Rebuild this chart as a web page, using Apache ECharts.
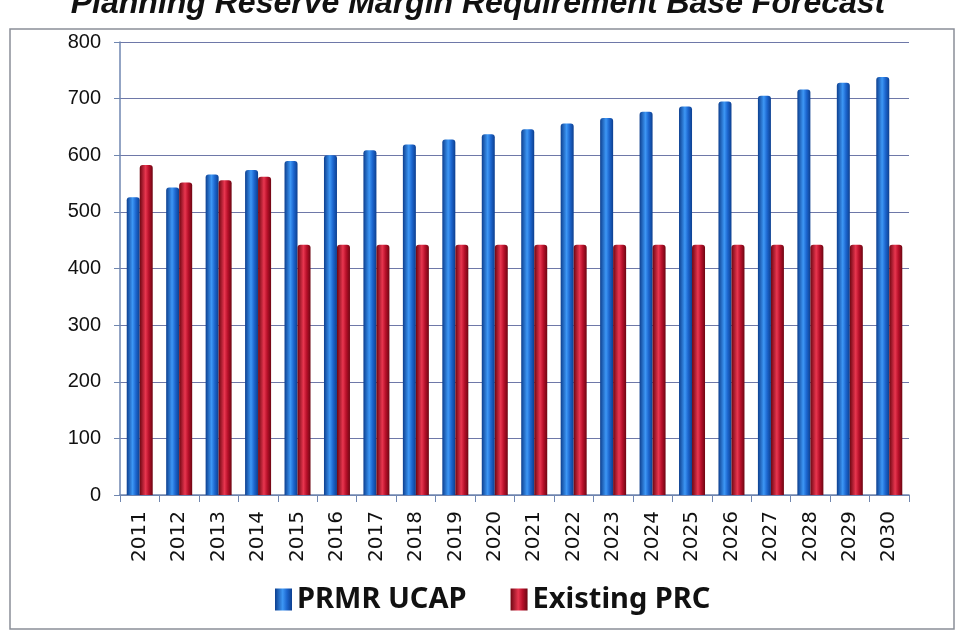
<!DOCTYPE html>
<html>
<head>
<meta charset="utf-8">
<script src="https://cdn.jsdelivr.net/npm/echarts@6/dist/echarts.min.js"></script>
<style>
  html, body { margin: 0; padding: 0; background: #fff; }
  #chart { width: 956px; height: 635px; }
</style>
</head>
<body>
<div id="chart"></div>
<script>
// years on the x axis
var years = ['2011', '2012', '2013', '2014', '2015', '2016', '2017', '2018', '2019', '2020',
  '2021', '2022', '2023', '2024', '2025', '2026', '2027', '2028', '2029', '2030'];
// PRMR UCAP (blue)
var prmrUcap = [526, 543, 566, 574, 590, 600, 609, 619, 628, 637,
  646, 656, 666, 677, 686, 695, 705, 716, 728, 738];
// Existing PRC (red)
var existingPrc = [583, 552, 556, 562, 442, 442, 442, 442, 442, 442,
  442, 442, 442, 442, 442, 442, 442, 442, 442, 442];
var yTicks = [0, 100, 200, 300, 400, 500, 600, 700, 800];

var chart = echarts.init(document.getElementById('chart'));

function cyl(dark, mid, light) {
  return new echarts.graphic.LinearGradient(0, 0, 1, 0, [
    { offset: 0, color: dark },
    { offset: 0.45, color: light },
    { offset: 0.7, color: mid },
    { offset: 1, color: dark }
  ]);
}

chart.setOption({
  animation: false,
  title: {
    text: 'Planning Reserve Margin Requirement Base Forecast',
    left: 'center',
    top: -17,
    textStyle: {
      fontFamily: 'Liberation Sans',
      fontSize: 32,
      fontWeight: 'bold',
      fontStyle: 'italic',
      color: '#111'
    }
  },
  graphic: [{
    type: 'rect',
    shape: { x: 10, y: 29, width: 944, height: 600 },
    style: { fill: 'none', stroke: '#8a8f98', lineWidth: 1.5 },
    z: -1
  }],
  legend: {
    bottom: 16,
    left: 270,
    itemWidth: 17,
    itemHeight: 22,
    itemGap: 44,
    icon: 'rect',
    textStyle: {
      fontFamily: 'Noto Sans',
      fontSize: 29,
      fontWeight: 'bold',
      color: '#111'
    },
    data: ['PRMR UCAP', 'Existing PRC']
  },
  grid: {
    left: 120,
    right: 47,
    top: 42,
    bottom: 140
  },
  xAxis: {
    type: 'category',
    data: years,
    axisLine: { lineStyle: { color: '#6f86b0', width: 1.5 } },
    axisTick: { show: true, length: 7, lineStyle: { color: '#6f86b0' } },
    axisLabel: {
      rotate: 90,
      interval: 0,
      margin: 16,
      fontFamily: 'DejaVu Sans',
      fontSize: 20,
      color: '#111'
    }
  },
  yAxis: {
    type: 'value',
    min: yTicks[0],
    max: yTicks[yTicks.length - 1],
    interval: 100,
    axisLine: { show: true, lineStyle: { color: '#6f86b0', width: 1.5 } },
    axisTick: { show: true, length: 6, lineStyle: { color: '#6f86b0' } },
    axisLabel: {
      margin: 19,
      fontFamily: 'Liberation Sans',
      fontSize: 20,
      color: '#111'
    },
    splitLine: { lineStyle: { color: '#6e78a8', width: 1.2 } }
  },
  series: [
    {
      name: 'PRMR UCAP',
      type: 'bar',
      data: prmrUcap,
      barWidth: 13,
      barGap: '0%',
      itemStyle: {
        color: cyl('#0d3f8f', '#1c66cf', '#3d97f5'),
        borderRadius: [3, 3, 0, 0]
      }
    },
    {
      name: 'Existing PRC',
      type: 'bar',
      data: existingPrc,
      barWidth: 13,
      itemStyle: {
        color: cyl('#6e0612', '#b8102a', '#e8364f'),
        borderRadius: [3, 3, 0, 0]
      }
    }
  ]
});
</script>
</body>
</html>
